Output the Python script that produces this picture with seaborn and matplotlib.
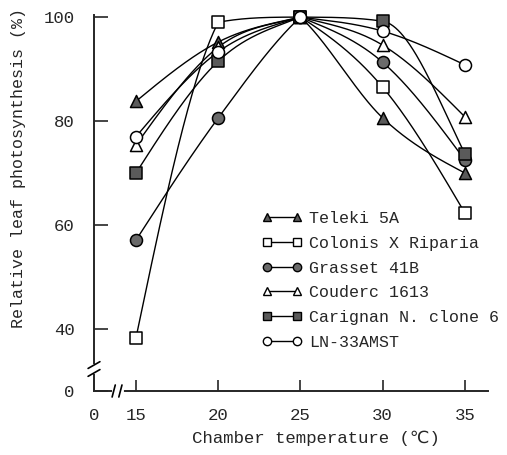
import numpy as np
import pandas as pd
import seaborn as sns
import matplotlib.pyplot as plt
from matplotlib.lines import Line2D

temps = [15, 20, 25, 30, 35]
cultivars = ["Teleki 5A", "Colonis X Riparia", "Grasset 41B",
             "Couderc 1613", "Carignan N. clone 6", "LN-33AMST"]
teleki = [83.8, 95.2, 100, 80.6, 70.0]
colonis = [38.3, 99.0, 100, 86.5, 62.3]
grasset = [57.1, 80.6, 100, 91.3, 72.5]
couderc = [75.4, 94.2, 100, 94.6, 80.8]
carignan = [70.0, 91.5, 100, 99.2, 73.7]
ln33 = [77.0, 93.3, 100, 97.3, 90.8]

series = [teleki, colonis, grasset, couderc, carignan, ln33]
markers = ["^", "s", "o", "^", "s", "o"]
fills = ["#5a5a5a", "white", "#6a6a6a", "white", "#5a5a5a", "white"]

Y_ZERO = 28.1   # where the broken axis puts "0"
X_ZERO = 12.45


def smooth(x, y, xs):
    """hermite curve through the points: catmull-rom tangents, a corner
    at the peak, tangents limited so segments don't bulge much"""
    x = np.asarray(x, float)
    y = np.asarray(y, float)
    h = np.diff(x)
    d = np.diff(y) / h
    n = len(x)
    ml = np.zeros(n)  # tangent arriving at point k
    mr = np.zeros(n)  # tangent leaving point k
    for k in range(1, n - 1):
        if d[k - 1] > 0 and d[k] < 0:
            ml[k] = 0.75 * d[k - 1]
            mr[k] = 0.75 * d[k]
        else:
            ml[k] = mr[k] = (y[k + 1] - y[k - 1]) / (x[k + 1] - x[k - 1])
    mr[0] = (3 * d[0] - ml[1]) / 2
    ml[-1] = (3 * d[-1] - mr[-2]) / 2
    for _ in range(4):
        for k in range(n - 1):
            a = abs(mr[k] / d[k]) if d[k] != 0 else 0
            b = abs(ml[k + 1] / d[k]) if d[k] != 0 else 0
            if a * a + b * b > 9:
                tau = 3 / np.sqrt(a * a + b * b)
                mr[k] *= tau
                ml[k + 1] *= tau
                if ml[k] == mr[k] / tau:
                    ml[k] = mr[k]
                if mr[k + 1] == ml[k + 1] / tau:
                    mr[k + 1] = ml[k + 1]
    out = np.empty_like(xs)
    for i, xv in enumerate(xs):
        k = min(np.searchsorted(x, xv, side="right") - 1, n - 2)
        t = (xv - x[k]) / h[k]
        h00 = 2 * t**3 - 3 * t**2 + 1
        h10 = t**3 - 2 * t**2 + t
        h01 = -2 * t**3 + 3 * t**2
        h11 = t**3 - t**2
        out[i] = (h00 * y[k] + h10 * h[k] * mr[k]
                  + h01 * y[k + 1] + h11 * h[k] * ml[k + 1])
    return out


def main():
    sns.set_style("ticks")
    plt.rcParams["font.family"] = ["Liberation Mono", "DejaVu Sans"]

    fig = plt.figure(figsize=(5.07, 4.55), dpi=100)
    ax = fig.add_axes([94 / 507, 64 / 455, 394 / 507, 376 / 455])

    xs = np.linspace(15, 35, 400)
    handles = []
    for name, vals, mk, fc in zip(cultivars, series, markers, fills):
        curve = pd.DataFrame({"t": xs, "v": smooth(temps, vals, xs)})
        sns.lineplot(data=curve, x="t", y="v", ax=ax, color="black",
                     lw=1.0, estimator=None, sort=False)
        pts = pd.DataFrame({"t": temps, "v": vals})
        sns.scatterplot(data=pts, x="t", y="v", ax=ax, marker=mk, s=75,
                        color=fc, edgecolor="black", linewidth=1.1,
                        zorder=3, clip_on=False)
        handles.append(Line2D([], [], color="black", lw=1.0, marker=mk,
                              markersize=6, markerfacecolor=fc,
                              markeredgecolor="black"))
    for ln in ax.lines:
        ln.set_clip_on(False)

    ax.set_xlim(X_ZERO, 36.4)
    ax.set_ylim(Y_ZERO, 100.4)
    ax.set_xticks([X_ZERO, 15, 20, 25, 30, 35])
    ax.set_xticklabels(["0", "15", "20", "25", "30", "35"])
    ax.set_yticks([Y_ZERO, 40, 60, 80, 100])
    ax.set_yticklabels(["0", "40", "60", "80", "100"])
    ax.tick_params(axis="x", direction="in", length=8, width=1.2,
                   pad=12, labelsize=12.5)
    ax.tick_params(axis="y", direction="in", length=10, width=1.2,
                   pad=14, labelsize=12.5)
    sns.despine(ax=ax)
    for sp in ["left", "bottom"]:
        ax.spines[sp].set_linewidth(1.4)

    ax.set_xlabel("Chamber temperature (℃)", fontsize=12.5)
    ax.set_ylabel("Relative leaf photosynthesis (%)", fontsize=12)
    ax.xaxis.set_label_coords(0.563, -0.105)
    ax.yaxis.set_label_coords(-0.172, 0.594)

    # axis breaks
    tr = ax.transAxes
    ax.plot([0, 0], [0.05, 0.067], color="white", lw=3, transform=tr,
            clip_on=False, zorder=5)
    for dy in (0.048, 0.069):
        ax.plot([-0.015, 0.015], [dy - 0.009, dy + 0.009], color="black",
                lw=1.2, transform=tr, clip_on=False, zorder=6)
    ax.plot([0.05, 0.07], [0, 0], color="white", lw=3, transform=tr,
            clip_on=False, zorder=5)
    for dx in (0.05, 0.067):
        ax.plot([dx - 0.004, dx + 0.004], [-0.016, 0.016], color="black",
                lw=1.2, transform=tr, clip_on=False, zorder=6)

    ax.legend(handles, cultivars, loc="upper left",
              bbox_to_anchor=(0.41, 0.496), frameon=False, fontsize=12,
              handlelength=2.4, handletextpad=0.4, labelspacing=0.58,
              numpoints=2, borderaxespad=0)

    fig.savefig("out.png", dpi=100)


if __name__ == "__main__":
    main()
